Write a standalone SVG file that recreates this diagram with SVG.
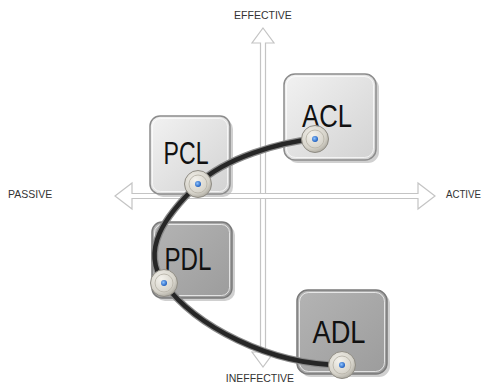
<svg xmlns="http://www.w3.org/2000/svg" width="483" height="384" viewBox="0 0 483 384">
<defs>
<style>
.axis{fill:#ffffff;stroke:#c4c4c4;stroke-width:1.2}
.lbl{font-family:"Liberation Sans",Arial,sans-serif;font-size:10.5px;fill:#333}
.big{font-family:"Liberation Sans",Arial,sans-serif;font-size:32px;fill:#111;text-anchor:middle}
.boxL{fill:url(#gL);stroke:#8c8c8c;stroke-width:1.5}
.boxD{fill:url(#gD);stroke:#7a7a7a;stroke-width:1.5}
.hi{fill:none;stroke:#ffffff;stroke-opacity:0.7;stroke-width:1}
.sh{fill:#b0b0b0;opacity:0.6}
</style>
<linearGradient id="gL" x1="0" y1="0" x2="1" y2="1">
<stop offset="0" stop-color="#f2f2f2"/><stop offset="1" stop-color="#d2d2d2"/>
</linearGradient>
<linearGradient id="gD" x1="0" y1="0" x2="1" y2="1">
<stop offset="0" stop-color="#b4b4b4"/><stop offset="1" stop-color="#9c9c9c"/>
</linearGradient>
<radialGradient id="gK" cx="0.4" cy="0.35" r="0.7">
<stop offset="0" stop-color="#f4f2ec"/><stop offset="0.7" stop-color="#d6d3ca"/><stop offset="1" stop-color="#a9a69c"/>
</radialGradient>
<radialGradient id="gB" cx="0.4" cy="0.4" r="0.6">
<stop offset="0" stop-color="#8fc4ff"/><stop offset="1" stop-color="#1f5fbf"/>
</radialGradient>
</defs>

<g id="axes">
<polygon class="axis" points="263,28 274,43 265.5,43 265.5,352 274,352 263,367 252,352 260.5,352 260.5,43 252,43"/>
<polygon class="axis" points="115,196 132,183 132,193.5 418,193.5 418,183 435,196 418,209 418,198.5 132,198.5 132,209"/>
</g>

<g id="labels">
<text class="lbl" x="263" y="19" text-anchor="middle">EFFECTIVE</text>
<text class="lbl" x="8" y="198">PASSIVE</text>
<text class="lbl" x="446" y="198" textLength="35" lengthAdjust="spacingAndGlyphs">ACTIVE</text>
<text class="lbl" x="260" y="382" text-anchor="middle">INEFFECTIVE</text>
</g>

<g id="node-PCL">
<rect class="sh" x="153" y="119" width="80" height="78" rx="10"/>
<rect class="boxL" x="150" y="116" width="80" height="78" rx="10"/>
<rect class="hi" x="152.5" y="118.5" width="75" height="73" rx="8"/>
<text class="big" x="186" y="164" textLength="45" lengthAdjust="spacingAndGlyphs">PCL</text>
</g>

<g id="node-ACL">
<rect class="sh" x="287" y="77" width="92" height="86" rx="11"/>
<rect class="boxL" x="284" y="74" width="92" height="86" rx="11"/>
<rect class="hi" x="286.5" y="76.5" width="87" height="81" rx="9"/>
<text class="big" x="327" y="127" textLength="50" lengthAdjust="spacingAndGlyphs">ACL</text>
</g>

<g id="node-PDL">
<rect class="sh" x="155" y="225" width="80" height="76" rx="10"/>
<rect class="boxD" x="152" y="222" width="80" height="76" rx="10"/>
<rect class="hi" x="154.5" y="224.5" width="75" height="71" rx="8"/>
<text class="big" x="188" y="270" textLength="47" lengthAdjust="spacingAndGlyphs">PDL</text>
</g>

<g id="node-ADL">
<rect class="sh" x="300" y="293" width="90" height="84" rx="11"/>
<rect class="boxD" x="297" y="290" width="90" height="84" rx="11"/>
<rect class="hi" x="299.5" y="292.5" width="85" height="79" rx="9"/>
<text class="big" x="339" y="343" textLength="53" lengthAdjust="spacingAndGlyphs">ADL</text>
</g>

<g id="connectors">
<path d="M315,139 C280,142 225,158 198,184 C165,216 140,250 164,283 C195,326 270,365 342,365" fill="none" stroke="#8a8a8a" stroke-width="7" stroke-linecap="round"/>
<path d="M315,139 C280,142 225,158 198,184 C165,216 140,250 164,283 C195,326 270,365 342,365" fill="none" stroke="#262626" stroke-width="4.5" stroke-linecap="round"/>
</g>

<g id="knobs">
<g id="knob-ACL"><circle cx="315" cy="139" r="13.5" fill="url(#gK)" stroke="#8f8c84" stroke-width="1"/><circle cx="315" cy="139" r="9" fill="none" stroke="#bdb9ae" stroke-width="1"/><circle cx="315" cy="139" r="3" fill="url(#gB)"/></g>
<g id="knob-PCL"><circle cx="198" cy="184" r="13.5" fill="url(#gK)" stroke="#8f8c84" stroke-width="1"/><circle cx="198" cy="184" r="9" fill="none" stroke="#bdb9ae" stroke-width="1"/><circle cx="198" cy="184" r="3" fill="url(#gB)"/></g>
<g id="knob-PDL"><circle cx="164" cy="283" r="13.5" fill="url(#gK)" stroke="#8f8c84" stroke-width="1"/><circle cx="164" cy="283" r="9" fill="none" stroke="#bdb9ae" stroke-width="1"/><circle cx="164" cy="283" r="3" fill="url(#gB)"/></g>
<g id="knob-ADL"><circle cx="342" cy="365" r="13.5" fill="url(#gK)" stroke="#8f8c84" stroke-width="1"/><circle cx="342" cy="365" r="9" fill="none" stroke="#bdb9ae" stroke-width="1"/><circle cx="342" cy="365" r="3" fill="url(#gB)"/></g>
</g>
</svg>
